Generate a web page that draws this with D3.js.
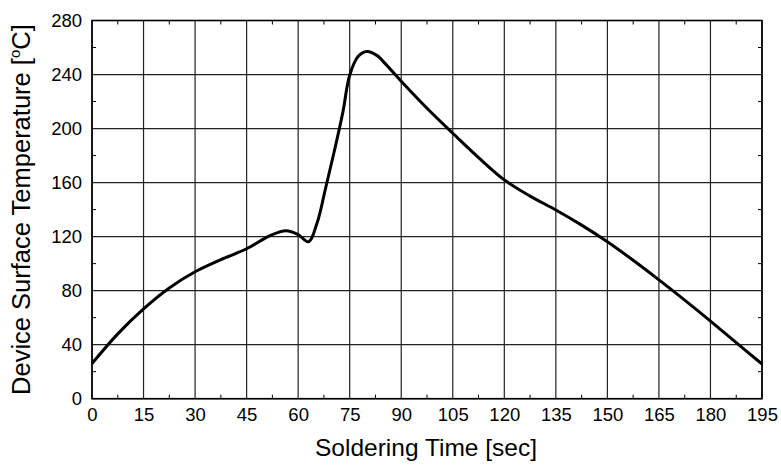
<!DOCTYPE html>
<html>
<head>
<meta charset="utf-8">
<style>
  body, html { margin: 0; padding: 0; background: #fff; overflow: hidden; }
  svg { display: block; font-family: "Liberation Sans", Arial, sans-serif; }
</style>
<script src="https://cdn.jsdelivr.net/npm/d3@7"></script>
</head>
<body>
<svg id="chart" width="781" height="468"></svg>
<script>
// reflow profile
var timeSec = [0, 7.5, 15, 22.5, 30, 37.5, 45, 52, 56.5, 60, 63, 65.5, 68, 70.5, 73, 75, 77.5, 80, 83, 85, 90, 97.5, 105, 112.5, 120, 127.5, 135, 142.5, 150, 157.5, 165, 172.5, 180, 187.5, 195];
var tempC = [26, 48, 66.5, 82, 94, 103, 111, 121, 124.4, 121.5, 116.2, 130, 156, 183, 212, 239.5, 253.5, 257, 254, 249, 235, 215, 196.5, 178.5, 162, 150, 139.7, 128.5, 116.2, 102.5, 88, 73, 57.5, 41.5, 25.7];

var xTicks = [0, 15, 30, 45, 60, 75, 90, 105, 120, 135, 150, 165, 180, 195];
var yTicks = [0, 40, 80, 120, 160, 200, 240, 280];

var m = {left: 92, right: 19, top: 20.5, bottom: 69.3};
var W = 781, H = 468;
var svg = d3.select("#chart");
var g = svg.append("g").attr("transform", "translate(" + m.left + "," + m.top + ")");
var w = W - m.left - m.right, h = H - m.top - m.bottom;

var x = d3.scaleLinear().domain([0, 195]).range([0, w]);
var y = d3.scaleLinear().domain([0, 280]).range([h, 0]);

// grid
g.selectAll(".vg").data(xTicks).enter().append("line")
  .attr("x1", d => x(d)).attr("x2", d => x(d)).attr("y1", 0).attr("y2", h)
  .attr("stroke", "#222").attr("stroke-width", 1.2);
g.selectAll(".hg").data(yTicks).enter().append("line")
  .attr("y1", d => y(d)).attr("y2", d => y(d)).attr("x1", 0).attr("x2", w)
  .attr("stroke", "#222").attr("stroke-width", 1.2);

// minor ticks inside the frame
var xMinor = d3.range(7.5, 195, 15);
var yMinor = d3.range(20, 280, 40);
xMinor.forEach(function(v) {
  g.append("line").attr("x1", x(v)).attr("x2", x(v)).attr("y1", h).attr("y2", h - 4).attr("stroke", "#000");
  g.append("line").attr("x1", x(v)).attr("x2", x(v)).attr("y1", 0).attr("y2", 4).attr("stroke", "#000");
});
yMinor.forEach(function(v) {
  g.append("line").attr("y1", y(v)).attr("y2", y(v)).attr("x1", 0).attr("x2", 4).attr("stroke", "#000");
  g.append("line").attr("y1", y(v)).attr("y2", y(v)).attr("x1", w).attr("x2", w - 4).attr("stroke", "#000");
});

// frame
g.append("rect").attr("width", w).attr("height", h)
  .attr("fill", "none").attr("stroke", "#000").attr("stroke-width", 1.6);

// tick labels via d3 axes
var xAxis = g.append("g").attr("transform", "translate(0," + h + ")")
  .call(d3.axisBottom(x).tickValues(xTicks).tickSize(0).tickPadding(9));
var yAxis = g.append("g")
  .call(d3.axisLeft(y).tickValues(yTicks).tickSize(0).tickPadding(10));
[xAxis, yAxis].forEach(function(a) {
  a.select(".domain").remove();
  a.selectAll("text").attr("font-size", 18.5).attr("fill", "#000")
    .attr("font-family", "Liberation Sans, Arial, sans-serif");
});

// curve
var line = d3.line()
  .x((d, i) => x(timeSec[i]))
  .y(d => y(d))
  .curve(d3.curveCatmullRom.alpha(0.5));
g.append("path").datum(tempC).attr("d", line)
  .attr("fill", "none").attr("stroke", "#000").attr("stroke-width", 3)
  .attr("stroke-linejoin", "round");

// titles
svg.append("text").attr("x", m.left + w / 2 - 1).attr("y", 456)
  .attr("text-anchor", "middle").attr("font-size", 24.5).text("Soldering Time [sec]");

var yt = svg.append("text")
  .attr("transform", "translate(30," + (m.top + h / 2) + ") rotate(-90)")
  .attr("text-anchor", "middle").attr("font-size", 25.5);
yt.append("tspan").text("Device Surface Temperature [");
yt.append("tspan").attr("font-size", 15).attr("dy", -10).text("o");
yt.append("tspan").attr("dy", 10).text("C]");
</script>
</body>
</html>
